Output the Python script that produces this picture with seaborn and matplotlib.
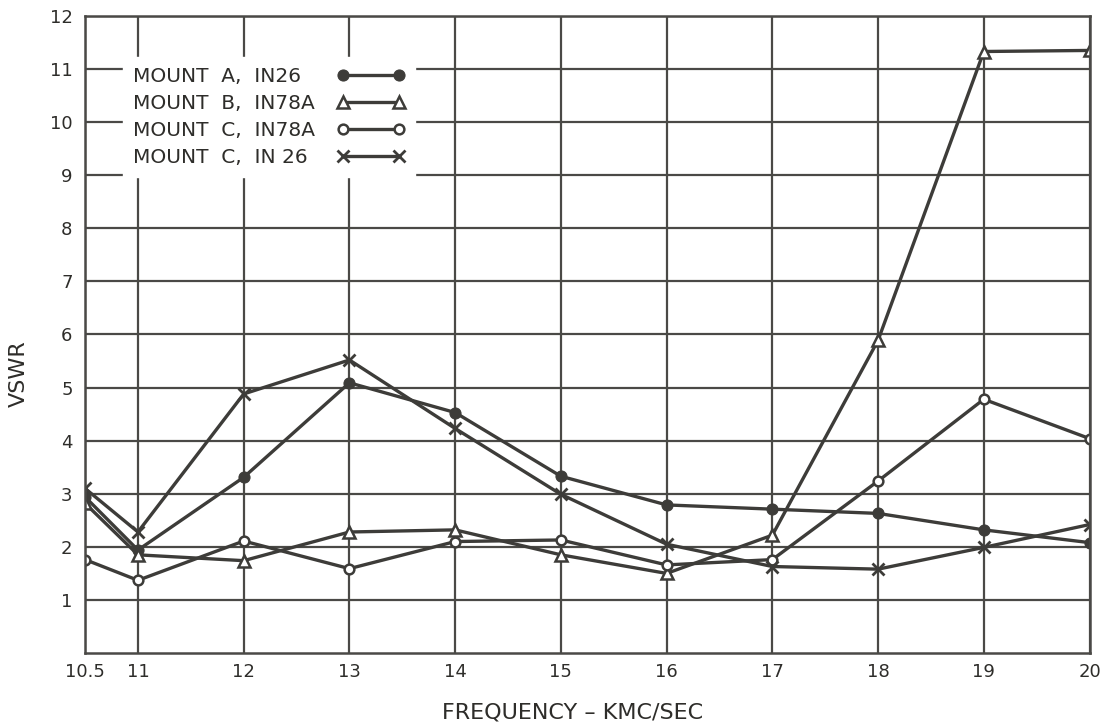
import pandas as pd
import seaborn as sns
import matplotlib.pyplot as plt

# frequency points (KMC/sec)
freq = [10.5, 11, 12, 13, 14, 15, 16, 17, 18, 19, 20]

# VSWR readings per mount / crystal
mount_a_in26 = [2.94, 1.94, 3.31, 5.09, 4.53, 3.33, 2.79, 2.71, 2.63, 2.32, 2.08]
mount_b_in78a = [2.82, 1.85, 1.74, 2.28, 2.32, 1.85, 1.50, 2.22, 5.89, 11.33, 11.35]
mount_c_in78a = [1.76, 1.37, 2.11, 1.59, 2.10, 2.13, 1.66, 1.76, 3.24, 4.78, 4.04]
mount_c_in26 = [3.10, 2.28, 4.88, 5.52, 4.23, 2.99, 2.05, 1.63, 1.58, 1.99, 2.42]

labels = ["MOUNT  A,  IN26", "MOUNT  B,  IN78A", "MOUNT  C,  IN78A", "MOUNT  C,  IN 26"]
x_ticks = [10.5, 11, 12, 13, 14, 15, 16, 17, 18, 19, 20]
y_ticks = list(range(1, 13))

ink = "#3d3c39"
text_ink = "#2e2d2a"

sns.set_theme(style="white")
plt.rcParams['font.family'] = ['DejaVu Sans']

fig = plt.figure(figsize=(11.05, 7.24), dpi=100)
ax = fig.add_axes([0.077, 0.098, 0.909, 0.880])

styles = [
    dict(marker="o", markersize=8, markerfacecolor=ink, markeredgecolor=ink),
    dict(marker="^", markersize=8, markerfacecolor="white", markeredgecolor=ink, markeredgewidth=1.8),
    dict(marker="o", markersize=7, markerfacecolor="white", markeredgecolor=ink, markeredgewidth=1.8),
    dict(marker="x", markersize=9, markeredgecolor=ink, markeredgewidth=2.0),
]

for vals, lab, st in zip([mount_a_in26, mount_b_in78a, mount_c_in78a, mount_c_in26], labels, styles):
    df = pd.DataFrame({"freq": freq, "vswr": vals})
    sns.lineplot(data=df, x="freq", y="vswr", ax=ax, color=ink, linewidth=2.4,
                 label=lab, **st)

ax.set_xlim(10.5, 20)
ax.set_ylim(0, 12)
ax.set_xticks(x_ticks)
ax.set_xticklabels(["10.5"] + [str(t) for t in x_ticks[1:]])
ax.set_yticks(y_ticks)
ax.grid(True, color="#4a4946", linewidth=1.6)
ax.set_axisbelow(True)
for s in ax.spines.values():
    s.set_color("#4a4946")
    s.set_linewidth(1.8)
ax.tick_params(axis="both", length=0, labelsize=13, colors=text_ink)
ax.tick_params(axis="x", pad=7)
ax.tick_params(axis="y", pad=9)

ax.set_xlabel("FREQUENCY – KMC/SEC", fontsize=16, color=text_ink)
ax.xaxis.set_label_coords(0.485, -0.077)
ax.set_ylabel("VSWR", fontsize=16, color=text_ink)
ax.yaxis.set_label_coords(-0.056, 0.438)

leg = ax.legend(loc="upper left", bbox_to_anchor=(0.038, 0.936), borderaxespad=0,
                markerfirst=False, numpoints=2, handlelength=3.4, frameon=True,
                fancybox=False, fontsize=14.5, labelspacing=0.4, borderpad=0.5)
leg.get_frame().set_facecolor("white")
leg.get_frame().set_edgecolor("white")
leg.get_frame().set_alpha(1.0)
for t in leg.get_texts():
    t.set_color(text_ink)

# left-align legend text while keeping handles lined up on the right
fig.canvas.draw()
renderer = fig.canvas.get_renderer()
rows = []
for col in leg._legend_handle_box.get_children():
    rows.extend(col.get_children())
w = max(max(r.get_bbox(renderer).width for r in rows), 272)
for r in rows:
    r.mode = "expand"
    r.width = w

fig.savefig("out.png", dpi=100, facecolor="white")
